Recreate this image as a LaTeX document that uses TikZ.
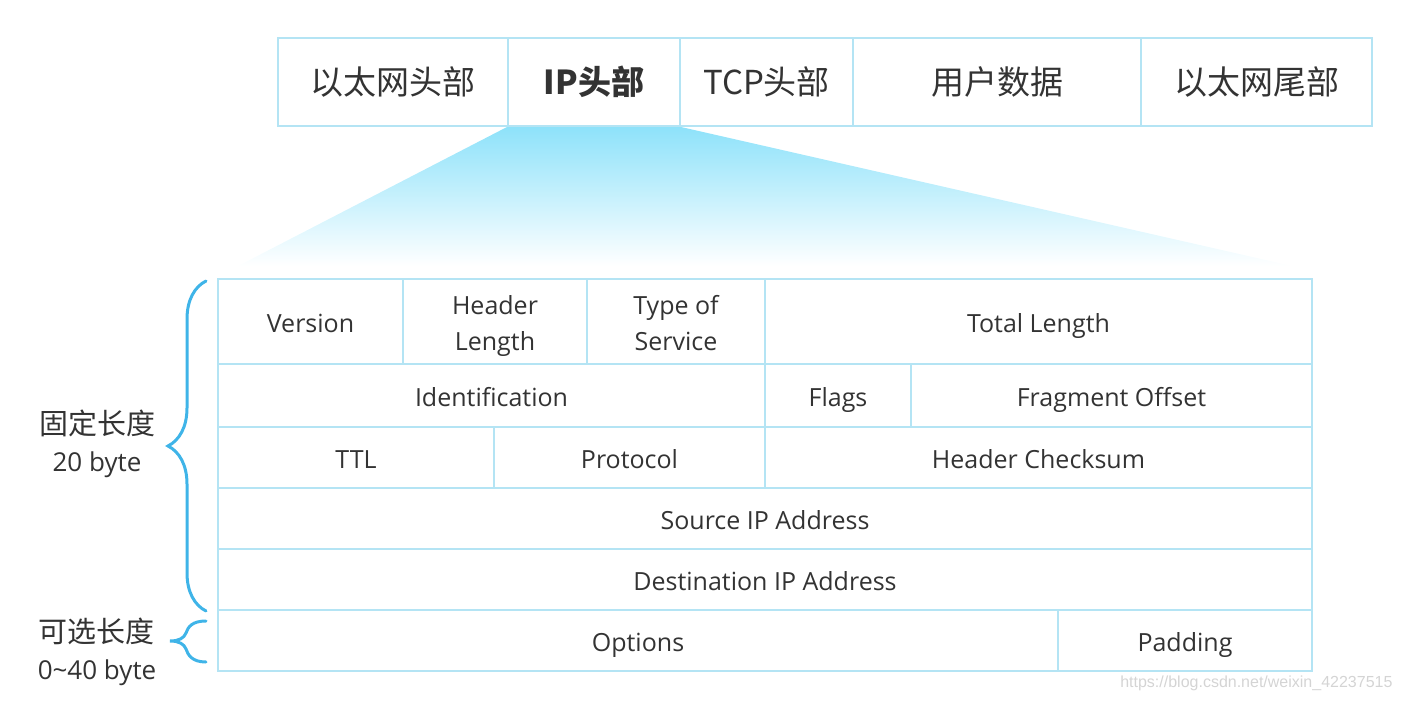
\documentclass[tikz,border=0pt]{standalone}
\usepackage{fontspec}
\setmainfont{Open Sans}
\newfontfamily\cjk{Noto Sans CJK SC}
\newfontfamily\markfont{Liberation Sans}
\usetikzlibrary{positioning,decorations.pathreplacing,calc}

\definecolor{linecyan}{HTML}{B4E4F4}
\definecolor{bracecyan}{HTML}{3FB4E8}
\definecolor{fadecyan}{HTML}{8EE2FA}
\definecolor{textgray}{HTML}{333333}
\definecolor{markgray}{HTML}{D4D4D4}

\tikzset{
  cellbox/.style={draw=linecyan, line width=2pt, inner sep=0pt, text=textgray, align=center,
    font=\fontsize{25}{36}\selectfont},
  cell/.style={cellbox, text height=21pt, text depth=0pt},
  twocell/.style={cellbox, text height=57pt, text depth=0pt},
  barcell/.style={cellbox, minimum height=88pt, font=\cjk\fontsize{33}{40}\selectfont},
  sidelabel/.style={text=textgray, align=center, font=\fontsize{26}{37}\selectfont},
  bytebrace/.style={draw=bracecyan, line width=3pt, line cap=round,
    decorate, decoration={brace, amplitude=38pt}}
}

\begin{document}
\begin{tikzpicture}[x=1pt, y=-1pt]
        \useasboundingbox (0,0) rectangle (1403,701);

        % Ethernet frame
        \node[barcell, minimum width=230pt] (eth) at (393,82) {以太网头部};
        \node[barcell, minimum width=172pt] (ip) at (594,82) {\bfseries IP头部};
        \node[barcell, minimum width=173pt] (tcp) at (766.5,82) {TCP头部};
        \node[barcell, minimum width=288pt] (data) at (997,82) {用户数据};
        \node[barcell, minimum width=231pt] (tail) at (1256.5,82) {以太网尾部};

        % Zoom
        \coordinate (zoomleft) at (238,266);
        \coordinate (zoomright) at (1292,266);
        \shade[top color=fadecyan, bottom color=white] (ip.south west) -- (ip.south east) -- (zoomright) -- (zoomleft) -- cycle;

        % IP header
        \node[cell, minimum width=185pt, minimum height=85pt] (version) at (310.5,321.5) {Version};
        \node[twocell, minimum width=184pt, minimum height=85pt] (hlen) at (495,321.5) {Header\\Length};
        \node[twocell, minimum width=178pt, minimum height=85pt] (tos) at (676,321.5) {Type of\\Service};
        \node[cell, minimum width=547pt, minimum height=85pt] (tlen) at (1038.5,321.5) {Total Length};

        \node[cell, minimum width=547pt, minimum height=63pt] (ident) at (491.5,395.5) {Identification};
        \node[cell, minimum width=146pt, minimum height=63pt] (flags) at (838,395.5) {Flags};
        \node[cell, minimum width=401pt, minimum height=63pt] (frag) at (1111.5,395.5) {Fragment Offset};

        \node[cell, minimum width=276pt, minimum height=61pt] (ttl) at (356,457.5) {TTL};
        \node[cell, minimum width=271pt, minimum height=61pt] (proto) at (629.5,457.5) {Protocol};
        \node[cell, minimum width=547pt, minimum height=61pt] (csum) at (1038.5,457.5) {Header Checksum};

        \node[cell, minimum width=1094pt, minimum height=61pt] (src) at (765,518.5) {Source IP Address};
        \node[cell, minimum width=1094pt, minimum height=61pt] (dst) at (765,579.5) {Destination IP Address};

        \node[cell, minimum width=840pt, minimum height=61pt] (opt) at (638,640.5) {Options};
        \node[cell, minimum width=254pt, minimum height=61pt] (pad) at (1185,640.5) {Padding};

        % Braces
        \coordinate (fixtop) at (206,281);
        \coordinate (fixbot) at (206,611);
        \draw[bytebrace] (fixbot) -- (fixtop);
        \node[sidelabel] (fixlabel) at (97,444) {{\cjk\fontsize{29}{37}\selectfont 固定长度}\\20 byte};

        \coordinate (opttop) at (206,621);
        \coordinate (optbot) at (206,662);
        \draw[draw=bracecyan, line width=3pt, line cap=round] (opttop) .. controls (192,621) and (188,627) .. (186,633)
          .. controls (184,638) and (179,641) .. (170,641)
          .. controls (179,641) and (184,644) .. (186,649)
          .. controls (188,655) and (192,662) .. (optbot);
        \node[sidelabel] (optlabel) at (97,652) {{\cjk\fontsize{29}{37}\selectfont 可选长度}\\0\textasciitilde 40 byte};

        \node[anchor=east, text=markgray, font=\markfont\fontsize{16}{18}\selectfont] (watermark) at (1396,683) {https://blog.csdn.net/weixin\_42237515};
    \end{tikzpicture}
\end{document}
